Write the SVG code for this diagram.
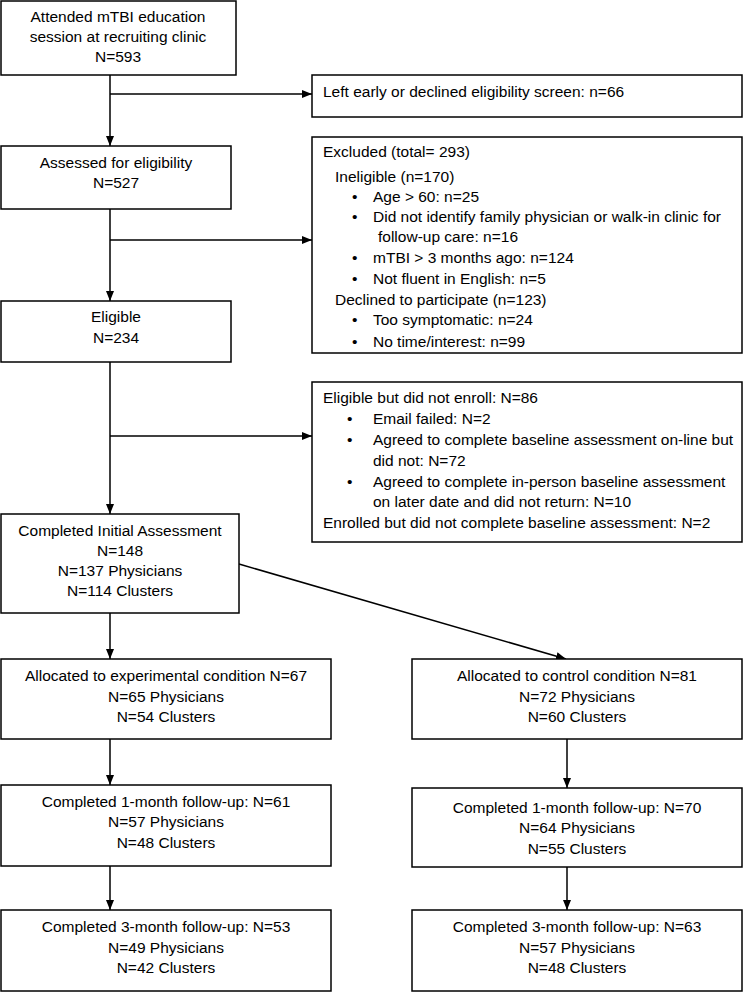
<svg xmlns="http://www.w3.org/2000/svg" width="743" height="992" viewBox="0 0 743 992">
<defs>
<style>
.box{fill:#fff;stroke:#000;stroke-width:1.5}
.t{font-family:"Liberation Sans",Arial,sans-serif;font-size:15.5px;fill:#000}
.c{text-anchor:middle}
.ln{stroke:#000;stroke-width:1.5;fill:none}
</style>
<marker id="ah" markerUnits="userSpaceOnUse" markerWidth="10" markerHeight="10" viewBox="0 0 10 10" refX="10" refY="5" orient="auto">
<path d="M0,1 L10,5 L0,9 Z" fill="#000"/>
</marker>
</defs>
<rect width="743" height="992" fill="#fff"/>
<g id="connectors">
<line class="ln" x1="110" y1="75" x2="110" y2="146" marker-end="url(#ah)"/>
<line class="ln" x1="110" y1="94" x2="312" y2="94" marker-end="url(#ah)"/>
<line class="ln" x1="110" y1="209" x2="110" y2="301" marker-end="url(#ah)"/>
<line class="ln" x1="110" y1="240" x2="312" y2="240" marker-end="url(#ah)"/>
<line class="ln" x1="110" y1="362" x2="110" y2="514" marker-end="url(#ah)"/>
<line class="ln" x1="110" y1="436" x2="312" y2="436" marker-end="url(#ah)"/>
<line class="ln" x1="110" y1="613" x2="110" y2="659" marker-end="url(#ah)"/>
<line class="ln" x1="239" y1="564" x2="566" y2="659" marker-end="url(#ah)"/>
<line class="ln" x1="110" y1="739" x2="110" y2="785" marker-end="url(#ah)"/>
<line class="ln" x1="110" y1="866" x2="110" y2="910" marker-end="url(#ah)"/>
<line class="ln" x1="567" y1="739" x2="567" y2="788" marker-end="url(#ah)"/>
<line class="ln" x1="567" y1="867" x2="567" y2="910" marker-end="url(#ah)"/>
</g>
<g id="attended">
<rect class="box" x="1" y="1" width="235" height="74"/>
<text class="t c" x="118" y="22">Attended mTBI education</text>
<text class="t c" x="118" y="42">session at recruiting clinic</text>
<text class="t c" x="118" y="62">N=593</text>
</g>
<g id="left-early">
<rect class="box" x="312" y="75" width="430" height="42"/>
<text class="t" x="323" y="97">Left early or declined eligibility screen: n=66</text>
</g>
<g id="assessed">
<rect class="box" x="1" y="146" width="230" height="63"/>
<text class="t c" x="116" y="168">Assessed for eligibility</text>
<text class="t c" x="116" y="188">N=527</text>
</g>
<g id="excluded">
<rect class="box" x="312" y="137" width="430" height="216"/>
<text class="t" x="323" y="157">Excluded (total= 293)</text>
<text class="t" x="335" y="182">Ineligible (n=170)</text>
<text class="t" x="352" y="202">•</text><text class="t" x="373" y="202">Age &gt; 60: n=25</text>
<text class="t" x="352" y="222">•</text><text class="t" x="373" y="222">Did not identify family physician or walk-in clinic for</text>
<text class="t" x="378" y="242">follow-up care: n=16</text>
<text class="t" x="352" y="263">•</text><text class="t" x="373" y="263">mTBI &gt; 3 months ago: n=124</text>
<text class="t" x="352" y="284">•</text><text class="t" x="373" y="284">Not fluent in English: n=5</text>
<text class="t" x="335" y="305">Declined to participate (n=123)</text>
<text class="t" x="352" y="325">•</text><text class="t" x="373" y="325">Too symptomatic: n=24</text>
<text class="t" x="352" y="347">•</text><text class="t" x="373" y="347">No time/interest: n=99</text>
</g>
<g id="eligible">
<rect class="box" x="1" y="301" width="230" height="61"/>
<text class="t c" x="116" y="322">Eligible</text>
<text class="t c" x="116" y="343">N=234</text>
</g>
<g id="not-enrolled">
<rect class="box" x="312" y="382" width="430" height="160"/>
<text class="t" x="323" y="403">Eligible but did not enroll: N=86</text>
<text class="t" x="347" y="424">•</text><text class="t" x="373" y="424">Email failed: N=2</text>
<text class="t" x="347" y="445">•</text><text class="t" x="373" y="445">Agreed to complete baseline assessment on-line but</text>
<text class="t" x="373" y="466">did not: N=72</text>
<text class="t" x="347" y="487">•</text><text class="t" x="373" y="487">Agreed to complete in-person baseline assessment</text>
<text class="t" x="373" y="507">on later date and did not return: N=10</text>
<text class="t" x="323" y="528">Enrolled but did not complete baseline assessment: N=2</text>
</g>
<g id="initial">
<rect class="box" x="1" y="514" width="238" height="99"/>
<text class="t c" x="120" y="536">Completed Initial Assessment</text>
<text class="t c" x="120" y="556">N=148</text>
<text class="t c" x="120" y="576">N=137 Physicians</text>
<text class="t c" x="120" y="596">N=114 Clusters</text>
</g>
<g id="exp-alloc">
<rect class="box" x="1" y="659" width="330" height="80"/>
<text class="t c" x="166" y="681">Allocated to experimental condition N=67</text>
<text class="t c" x="166" y="702">N=65 Physicians</text>
<text class="t c" x="166" y="722">N=54 Clusters</text>
</g>
<g id="ctl-alloc">
<rect class="box" x="412" y="659" width="330" height="80"/>
<text class="t c" x="577" y="681">Allocated to control condition N=81</text>
<text class="t c" x="577" y="702">N=72 Physicians</text>
<text class="t c" x="577" y="722">N=60 Clusters</text>
</g>
<g id="exp-1m">
<rect class="box" x="1" y="785" width="330" height="81"/>
<text class="t c" x="166" y="807">Completed 1-month follow-up: N=61</text>
<text class="t c" x="166" y="827">N=57 Physicians</text>
<text class="t c" x="166" y="848">N=48 Clusters</text>
</g>
<g id="ctl-1m">
<rect class="box" x="412" y="788" width="330" height="79"/>
<text class="t c" x="577" y="813">Completed 1-month follow-up: N=70</text>
<text class="t c" x="577" y="833">N=64 Physicians</text>
<text class="t c" x="577" y="854">N=55 Clusters</text>
</g>
<g id="exp-3m">
<rect class="box" x="1" y="910" width="330" height="81"/>
<text class="t c" x="166" y="932">Completed 3-month follow-up: N=53</text>
<text class="t c" x="166" y="953">N=49 Physicians</text>
<text class="t c" x="166" y="973">N=42 Clusters</text>
</g>
<g id="ctl-3m">
<rect class="box" x="412" y="910" width="330" height="81"/>
<text class="t c" x="577" y="932">Completed 3-month follow-up: N=63</text>
<text class="t c" x="577" y="953">N=57 Physicians</text>
<text class="t c" x="577" y="973">N=48 Clusters</text>
</g>
</svg>
